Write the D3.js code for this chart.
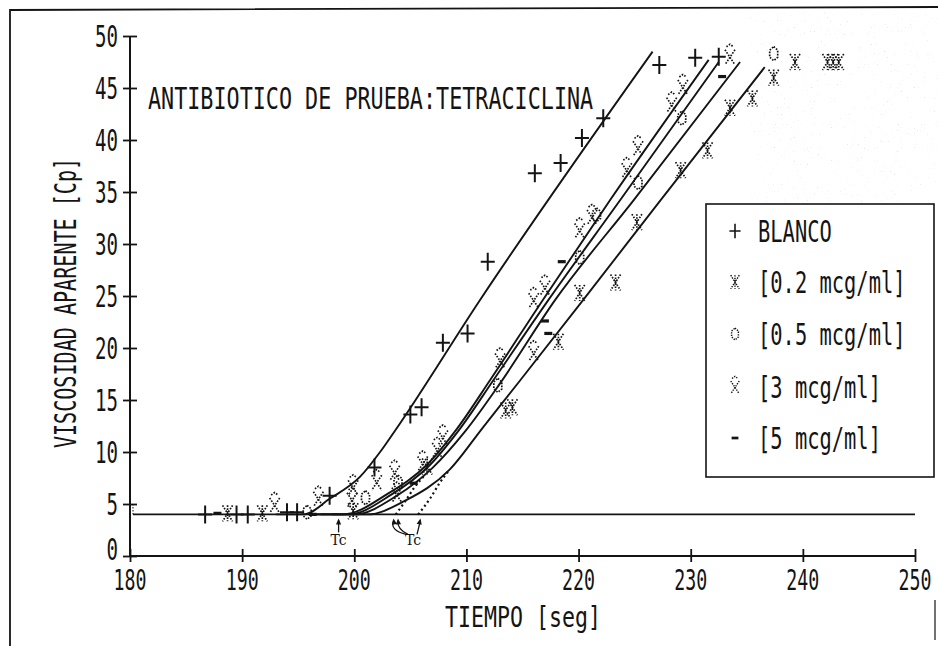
<!DOCTYPE html>
<html>
<head>
<meta charset="utf-8">
<script src="https://cdn.jsdelivr.net/npm/d3@7"></script>
<style>
  html, body { margin: 0; padding: 0; background: #fff; }
  svg { display: block; }
</style>
</head>
<body>
<svg id="chart" width="938" height="646"></svg>
<script>
// ---- data -------------------------------------------------------------
const xTicks = [180, 190, 200, 210, 220, 230, 240, 250];
const yTicks = [0, 5, 10, 15, 20, 25, 30, 35, 40, 45, 50];
const baseLevel = 4;

const seriesNames = ["BLANCO", "[0.2 mcg/ml]", "[0.5 mcg/ml]", "[3 mcg/ml]", "[5 mcg/ml]"];

// measured points [tiempo (s), viscosidad (Cp)]
const blanco = [[186.7,4.0],[189.5,4.0],[190.5,4.0],[194.0,4.2],[194.9,4.2],[197.8,5.8],
  [201.8,8.5],[205.0,13.6],[206.0,14.3],[207.9,20.5],[210.1,21.4],[211.9,28.3],
  [216.1,36.8],[218.4,37.8],[220.3,40.2],[222.2,42.1],[227.2,47.2],[230.4,47.9],[232.5,48.0]];
const conc02 = [[188.7,4.1],[191.8,4.1],[199.9,4.3],[206.5,8.6],[213.5,14.0],[214.1,14.3],
  [218.2,20.6],[220.1,25.3],[223.3,26.3],[225.2,32.1],[229.1,37.1],[231.5,39.0],
  [233.5,43.1],[235.5,44.0],[237.4,46.0],[239.3,47.5],[242.2,47.5],[242.7,47.5],[243.2,47.5]];
const conc05 = [[195.8,4.2],[201.0,5.6],[203.9,7.1],[212.8,16.4],[220.1,28.7],[221.6,32.8],
  [225.3,35.9],[229.2,42.1],[237.4,48.3]];
const conc3 = [[192.9,4.9],[196.8,5.5],[199.8,5.4],[199.9,6.6],[202.0,7.1],[203.6,8.0],
  [203.8,5.9],[206.1,8.9],[207.4,10.2],[207.9,11.4],[213.0,18.8],[216.0,19.5],
  [216.0,24.6],[217.0,25.8],[220.1,31.3],[221.2,32.6],[224.3,37.1],[225.3,39.2],
  [228.3,43.4],[229.3,45.1],[233.5,48.0]];
const conc5 = [[187.8,4.1],[196.3,4.0],[205.3,7.0],[217.0,22.6],[217.3,21.4],[218.5,28.3],
  [232.8,46.1]];

// fitted curves
const fitBlanco = [[193,4],[195.5,4],[197.8,5.5],[200.5,7.6],[202.3,10.0],[203.6,12.0],[211.2,24.6],[226.6,48.5]];
const fitA = [[196,4],[199.0,4],[203.0,6.0],[206.5,8.8],[209.2,12.3],[212.1,16.9],[216.8,24.6],[222.8,34.2],[231.6,47.7]];
const fitB = [[196.5,4],[199.5,4],[203.3,5.9],[206.7,8.7],[209.4,12.2],[212.4,16.9],[217.3,24.6],[223.7,34.2],[232.5,47.5]];
const fitC = [[197,4],[200.0,4],[203.8,5.8],[207.0,8.5],[209.9,12.0],[213.0,16.6],[217.9,24.6],[224.9,34.2],[234.4,47.5]];
const fitD = [[198,4],[201.2,4],[204.5,5.3],[208.5,8.3],[211.5,12.4],[214.8,16.9],[220.4,24.6],[227.3,34.2],[236.6,47.0]];
const dotA = [[205.7,4],[206.8,5.6],[207.6,7.0],[208.5,8.3]];
const dotB = [[203.7,4],[204.5,5.2],[205.3,6.5],[206.3,7.8]];

// onset times marked "Tc"
const tcLeft = 198.6;
const tcRight = [203.5, 203.9, 205.9];

// ---- drawing ----------------------------------------------------------
const svg = d3.select("#chart");
const ink = "#141414";
const MONO = "'DejaVu Sans Mono', 'Liberation Mono', monospace";
const MONO_ADV = 0.602;   // advance width of one monospace glyph, in em

const x = d3.scaleLinear().domain([180, 250]).range([130, 915]);
const y = d3.scaleLinear().domain([0, 50]).range([556, 36]);

// speckled haze in the upper right corner
const defs = svg.append("defs");
const f = defs.append("filter").attr("id", "grain")
  .attr("filterUnits", "userSpaceOnUse").attr("x", 750).attr("y", 12).attr("width", 188).attr("height", 190);
f.append("feTurbulence").attr("type", "turbulence").attr("baseFrequency", 0.7).attr("numOctaves", 1).attr("seed", 11);
f.append("feColorMatrix").attr("type", "matrix")
  .attr("values", "0 0 0 0 0.5  0 0 0 0 0.5  0 0 0 0 0.5  0 0 0 5 -2.2");
svg.append("rect").attr("x", 750).attr("y", 12).attr("width", 188).attr("height", 190)
  .attr("fill", "#000").attr("filter", "url(#grain)").attr("opacity", 0.45);

// outer frame
svg.append("path").attr("d", "M10,646 L10,10 L938,7").attr("fill", "none").attr("stroke", ink).attr("stroke-width", 1.8);
svg.append("path").attr("d", "M935,600 L935,640").attr("fill", "none").attr("stroke", ink).attr("stroke-width", 1.2);

// condensed printer-style text: natural monospace glyphs squeezed horizontally
function label(g, txt, px, py, size, adv, anchor) {
  const sx = adv / (MONO_ADV * size);
  return g.append("text")
    .attr("transform", `translate(${px},${py}) scale(${sx},1)`)
    .attr("font-family", MONO).attr("font-size", size)
    .attr("text-anchor", anchor || "start")
    .attr("fill", ink).text(txt);
}

// y axis
const gy = svg.append("g").attr("transform", `translate(${x(180)},0)`)
  .call(d3.axisLeft(y).tickValues(yTicks).tickSize(7).tickFormat(""));
gy.select(".domain").attr("stroke", ink).attr("stroke-width", 2).attr("d", `M0,${y(50)}V${y(0)}`);
gy.selectAll(".tick line").attr("x1", -7).attr("x2", 7).attr("stroke", ink).attr("stroke-width", 1.8);
yTicks.forEach(v => {
  label(svg, String(v), 118, y(v) + (v === 0 ? 4 : 11), 30, 11.5, "end");
});

// x axis
const gx = svg.append("g").attr("transform", `translate(0,${y(0)})`)
  .call(d3.axisBottom(x).tickValues(xTicks).tickSize(7).tickFormat(""));
gx.select(".domain").attr("stroke", ink).attr("stroke-width", 2).attr("d", `M${x(180)},0H${x(250)}`);
gx.selectAll(".tick line").attr("y1", -7).attr("y2", 6).attr("stroke", ink).attr("stroke-width", 1.8);
xTicks.forEach(v => label(svg, String(v), x(v), y(0) + 34, 29, 11, "middle"));

// axis titles
label(svg, "TIEMPO [seg]", 523, 627, 29, 13, "middle");
svg.append("g").attr("transform", "translate(76,303) rotate(-90)")
  .call(g => label(g, "VISCOSIDAD APARENTE [Cp]", 0, 0, 31, 12.1, "middle"));

// chart title
label(svg, "ANTIBIOTICO DE PRUEBA:TETRACICLINA", 148, 109, 31, 13.1, "start");

// base viscosity line
svg.append("line").attr("x1", x(180) + 3).attr("x2", x(250)).attr("y1", y(baseLevel)).attr("y2", y(baseLevel))
  .attr("stroke", ink).attr("stroke-width", 1.6);
svg.append("line").attr("x1", x(180) + 3).attr("x2", x(180) + 3).attr("y1", y(5)).attr("y2", y(baseLevel))
  .attr("stroke", ink).attr("stroke-width", 1).attr("stroke-dasharray", "1.5,1.5");

// fitted curves
const line = d3.line().x(d => x(d[0])).y(d => y(d[1])).curve(d3.curveMonotoneX);
[fitBlanco, fitA, fitB, fitC, fitD].forEach(c => {
  svg.append("path").attr("d", line(c)).attr("fill", "none").attr("stroke", ink).attr("stroke-width", 1.9);
});
[dotA, dotB].forEach(c => {
  svg.append("path").attr("d", line(c)).attr("fill", "none").attr("stroke", ink)
    .attr("stroke-width", 2.2).attr("stroke-dasharray", "2,3");
});

// marker shapes
const shapes = {
  plus:  { d: "M-7,0H7M0,-9V9", w: 2.0, dash: null },
  star:  { d: "M-5,-8L5,8M5,-8L-5,8M0,-8V8", w: 1.7, dash: "1.6,1.4" },
  ring:  { d: "M0,-7L4,-3.5L4,3.5L0,7L-4,3.5L-4,-3.5Z", w: 1.7, dash: "1.6,1.4" },
  cross: { d: "M-5,-7L5,8M5,-7L-5,8M-3.5,-10L0,-12.5L3.5,-10", w: 1.7, dash: "1.6,1.4" },
  dash:  { d: "M-4,0H4", w: 3.2, dash: null }
};
const seriesShapes = ["plus", "star", "ring", "cross", "dash"];
const seriesData = [blanco, conc02, conc05, conc3, conc5];

function marker(g, name, px, py, scale) {
  const s = shapes[name];
  const p = g.append("path").attr("d", s.d)
    .attr("transform", `translate(${px},${py}) scale(${scale || 1})`)
    .attr("fill", "none").attr("stroke", ink).attr("stroke-width", s.w);
  if (s.dash) p.attr("stroke-dasharray", s.dash);
}
seriesData.forEach((pts, i) => {
  const g = svg.append("g");
  pts.forEach(d => marker(g, seriesShapes[i], x(d[0]), y(d[1])));
});

// Tc annotations
const serif = "'DejaVu Serif', 'Liberation Serif', serif";
const tipY = y(baseLevel) + 4;
function arrowHead(px, py, ang) {
  svg.append("path").attr("d", "M0,0L-2.6,6L2.6,6Z")
    .attr("transform", `translate(${px},${py}) rotate(${ang})`).attr("fill", ink);
}
svg.append("line").attr("x1", x(tcLeft)).attr("x2", x(tcLeft)).attr("y1", tipY + 14).attr("y2", tipY + 2)
  .attr("stroke", ink).attr("stroke-width", 1.3);
arrowHead(x(tcLeft), tipY, 0);
svg.append("text").attr("x", x(tcLeft)).attr("y", tipY + 27).attr("text-anchor", "middle")
  .attr("font-family", serif).attr("font-size", 14).attr("fill", ink).text("Tc");

const lx = x(tcRight[1]) + 14;
svg.append("path").attr("d", `M${lx - 6},${tipY + 16} Q${x(tcRight[0]) - 4},${tipY + 12} ${x(tcRight[0])},${tipY + 2}`)
  .attr("fill", "none").attr("stroke", ink).attr("stroke-width", 1.3);
svg.append("path").attr("d", `M${lx - 4},${tipY + 16} Q${x(tcRight[1]) - 1},${tipY + 11} ${x(tcRight[1])},${tipY + 2}`)
  .attr("fill", "none").attr("stroke", ink).attr("stroke-width", 1.3);
svg.append("path").attr("d", `M${lx + 5},${tipY + 16} L${x(tcRight[2])},${tipY + 2}`)
  .attr("fill", "none").attr("stroke", ink).attr("stroke-width", 1.3);
arrowHead(x(tcRight[0]), tipY, -8);
arrowHead(x(tcRight[1]), tipY, -4);
arrowHead(x(tcRight[2]), tipY, 12);
svg.append("text").attr("x", lx + 1).attr("y", tipY + 27).attr("text-anchor", "middle")
  .attr("font-family", serif).attr("font-size", 14).attr("fill", ink).text("Tc");

// legend
const lg = svg.append("g");
lg.append("rect").attr("x", 706).attr("y", 204).attr("width", 228).attr("height", 273)
  .attr("fill", "#fff").attr("stroke", ink).attr("stroke-width", 1.6);
const rowY = [231, 282, 334, 387, 438];
seriesNames.forEach((n, i) => {
  marker(lg, seriesShapes[i], 735, rowY[i], i === 0 ? 0.8 : 0.85);
  label(lg, n, 758, rowY[i] + 11, 30, 12.3, "start");
});
</script>
</body>
</html>
